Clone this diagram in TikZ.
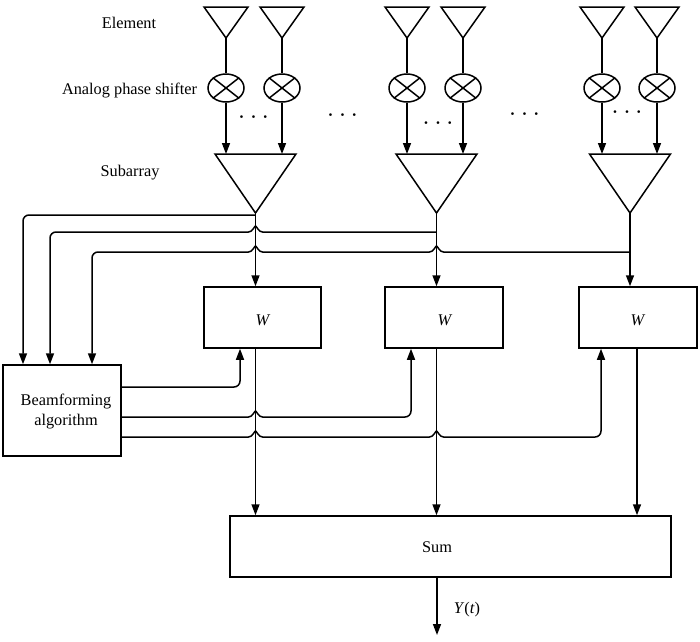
\documentclass[tikz,border=0pt]{standalone}
\usepackage{fontspec}
\setmainfont{Liberation Serif}
\usetikzlibrary{arrows.meta,shapes.geometric}
% leftward hop over a vertical line at x=#1, line at y=#2
\newcommand\hopL[2]{-- ({#1+7},#2) .. controls ({#1+3},#2) and ({#1+1},{#2-6}) .. (#1,{#2-6}) .. controls ({#1-1},{#2-6}) and ({#1-3},#2) .. ({#1-7},#2)}
% rightward hop
\newcommand\hopR[2]{-- ({#1-7},#2) .. controls ({#1-3},#2) and ({#1-1},{#2-6}) .. (#1,{#2-6}) .. controls ({#1+1},{#2-6}) and ({#1+3},#2) .. ({#1+7},#2)}
\newcommand\mydots{\textbf{\textperiodcentered}\hspace{6.5pt}\textbf{\textperiodcentered}\hspace{6.5pt}\textbf{\textperiodcentered}}
\begin{document}
\begin{tikzpicture}[x=1pt,y=-1pt,line width=1.5pt,
  every node/.style={font=\fontsize{16.3}{20}\selectfont},
  arr/.style={-{Triangle[length=11pt,width=8pt]}},
  psh/.style={draw,ellipse,minimum width=36pt,minimum height=28pt,inner sep=0pt},
  blk/.style={draw,rectangle,inner sep=0pt},
  lbl/.style={inner sep=0pt,anchor=base},
  dotl/.style={inner sep=0pt}]
\useasboundingbox (0,0) rectangle (700,641);

% labels on the left
\node[lbl] (lelem) at (129,28) {Element};
\node[lbl] (lps) at (129.5,94) {Analog phase shifter};
\node[lbl] (lsub) at (130,176) {Subarray};

% elements, phase shifters
\foreach \x/\n in {226/1,282/2,407/3,463/4,602/5,657/6}{
  \coordinate (a\n) at (\x,38);
  \draw[line join=miter] (\x-22,7) -- (\x+22,7) -- (a\n) -- cycle;
  \node[psh] (p\n) at (\x,88) {};
  \draw (p\n.north east) -- (p\n.south west) (p\n.north west) -- (p\n.south east);
  \draw (a\n) -- (p\n.north);
  \coordinate (t\n) at (\x,154);
  \draw[arr] (p\n.south) -- (t\n);
}

% subarrays
\foreach \x/\n in {255.5/1,436.5/2,630/3}{
  \coordinate (s\n) at (\x,213);
  \draw[line join=miter] (\x-40.5,154) -- (\x+40.5,154) -- (s\n) -- cycle;
}

% dots
\node[dotl] (d1) at (253.5,119) {\mydots};
\node[dotl] (d2) at (342.5,117) {\mydots};
\node[dotl] (d3) at (438,125) {\mydots};
\node[dotl] (d4) at (524.5,116) {\mydots};
\node[dotl] (d5) at (627,114) {\mydots};

% W blocks
\node[blk,minimum width=117pt,minimum height=61pt] (w1) at (262.5,317.5) {};
\node[blk,minimum width=118pt,minimum height=61pt] (w2) at (444,317.5) {};
\node[blk,minimum width=118pt,minimum height=61pt] (w3) at (638,317.5) {};
\node[lbl] (w1t) at (263,325) {\textit{W}};
\node[lbl] (w2t) at (445,325) {\textit{W}};
\node[lbl] (w3t) at (638,325) {\textit{W}};

% beamforming
\node[blk,minimum width=118pt,minimum height=91pt] (bf) at (62,410.5) {};
\node[inner sep=0pt,align=center] (bft) at (66,412) {Beamforming\\algorithm};

% sum
\node[blk,minimum width=441pt,minimum height=61pt] (sum) at (450.5,546.5) {};
\node[lbl] (sumt) at (437,552) {Sum};
\coordinate (out) at (437,635);
\draw[arr] (sum.south -| out) -- (out);
\node[lbl] (yt) at (467,613) {\textit{Y}(\textit{t})};

% subarray -> W
\draw[arr] (s1) -- (w1.north -| s1);
\draw[arr] (s2) -- (w2.north -| s2);
\draw[arr] (s3) -- (w3.north -| s3);

% W -> sum
\coordinate (o1) at (255.5,0);
\coordinate (o2) at (436.5,0);
\coordinate (o3) at (637,0);
\draw[arr] (w1.south -| o1) -- (sum.north -| o1);
\draw[arr] (w2.south -| o2) -- (sum.north -| o2);
\draw[arr] (w3.south -| o3) -- (sum.north -| o3);

% subarray -> beamforming
\coordinate (j1) at (255.5,215);
\coordinate (j2) at (436.5,232);
\coordinate (j3) at (630,252);
\coordinate (x23) at (23,0);
\coordinate (x50) at (50,0);
\coordinate (x92) at (92,0);
\draw[arr,rounded corners=6pt] (j1) -| (bf.north -| x23);
\draw[arr] (j2) \hopL{255.5}{232} [rounded corners=6pt] -- (50,232) -- (bf.north -| x50);
\draw[arr] (j3) \hopL{436.5}{252} \hopL{255.5}{252} [rounded corners=6pt] -- (92,252) -- (bf.north -| x92);

% beamforming -> W
\draw[arr,rounded corners=6pt] ([yshift=23.5pt]bf.east) -| ([xshift=-22.5pt]w1.south);
\draw[arr] ([yshift=-6.5pt]bf.east) \hopR{255.5}{417} [rounded corners=6pt] -- (411,417) -- ([xshift=-33pt]w2.south);
\draw[arr] ([yshift=-26.5pt]bf.east) \hopR{255.5}{437} \hopR{436.5}{437} [rounded corners=6pt] -- (601,437) -- ([xshift=-37pt]w3.south);
\end{tikzpicture}
\end{document}
